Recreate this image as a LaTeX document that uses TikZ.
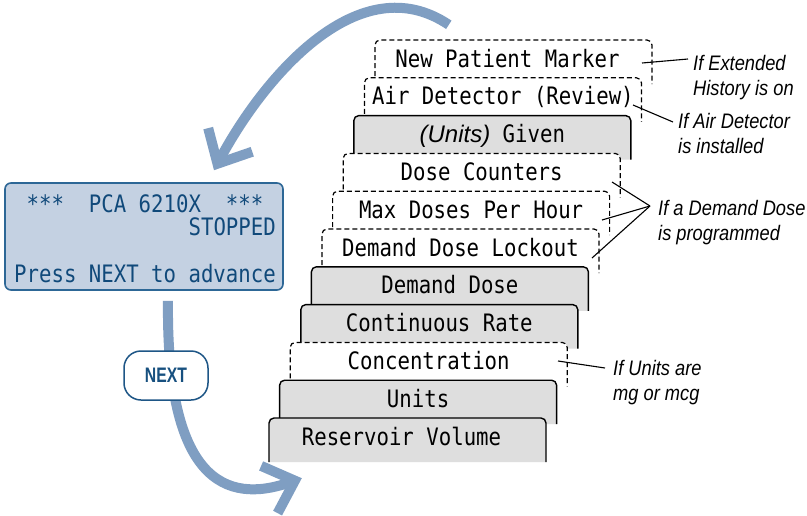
\documentclass[tikz,border=0pt]{standalone}
\usepackage{fontspec}
\setmainfont{Liberation Sans}
\newfontfamily\lcdfont[FakeStretch=0.862]{DejaVu Sans Mono}
\newfontfamily\notefont[FakeStretch=0.87]{Liberation Sans}
\newfontfamily\btnfont[FakeStretch=0.75]{Liberation Sans}
\usetikzlibrary{arrows.meta,calc}
\definecolor{cardgray}{HTML}{DEDEDE}
\definecolor{lcdfill}{HTML}{C4D1E2}
\definecolor{lcdborder}{HTML}{2D6796}
\definecolor{lcdink}{HTML}{10497A}
\definecolor{arrowblue}{HTML}{7F9EC2}
\definecolor{btnborder}{HTML}{1E5686}
\definecolor{btnink}{HTML}{17507F}
\newcommand\drawcard[4]{%
  \pgfmathsetmacro\cardL{375-10.6*#1}%
  \pgfmathsetmacro\cardT{40+37.8*#1}%
  \path[#3] (\cardL,\cardT+44) -- (\cardL,\cardT) -- (\cardL+277,\cardT) -- (\cardL+277,\cardT+44);
  \node[cardnode] (#2) at (\cardL+138.5,\cardT+22) {#4};
}
\begin{document}
\begin{tikzpicture}[x=1pt,y=-1pt,
  cardnode/.style={minimum width=277pt,minimum height=44pt,inner sep=0pt,text height=14pt,text depth=4pt,font=\lcdfont\fontsize{24}{24}\selectfont},
  graycard/.style={fill=cardgray,draw=black,line width=1.4pt,rounded corners=5pt},
  dashcard/.style={fill=white,draw=black,line width=1.2pt,dash pattern=on 5pt off 3pt,rounded corners=5pt},
  note/.style={anchor=north west,inner sep=0pt,align=left,font=\notefont\itshape\fontsize{21}{25}\selectfont},
  leader/.style={draw=black,line width=1.1pt},
  flow/.style={draw=arrowblue,line width=10pt,-{Straight Barb[length=27pt,width=50pt,line width=10pt]}},
  lcdbox/.style={fill=lcdfill,draw=lcdborder,line width=1.6pt,rounded corners=6pt,minimum width=278pt,minimum height=107pt,inner sep=0pt},
  lcdtext/.style={text=lcdink,inner sep=0pt,font=\lcdfont\fontsize{24}{24}\selectfont},
  btn/.style={fill=white,draw=btnborder,line width=1.5pt,rounded corners=17pt,minimum width=84pt,minimum height=49pt,inner sep=0pt,text=btnink,font=\btnfont\bfseries\fontsize{21}{21}\selectfont}
]
\useasboundingbox (0,0) rectangle (807,515);
\fill[white] (0,0) rectangle (807,515);

% LCD display
\node[lcdbox] (lcd) at (144,236.5) {};
\node[lcdtext,anchor=base west] (row1) at (14,212) {~***~~PCA~6210X~~***};
\node[lcdtext,anchor=base east] (row2) at (276,235) {STOPPED};
\node[lcdtext,anchor=base west] (row4) at (14,282) {Press~NEXT~to~advance};

% cards, top to bottom
\drawcard{0}{c0}{dashcard}{New Patient Marker\hspace*{12pt}}
\drawcard{1}{c1}{dashcard}{Air Detector (Review)}
\drawcard{2}{c2}{graycard}{{\rmfamily\itshape (Units)} Given}
\drawcard{3}{c3}{dashcard}{Dose Counters}
\drawcard{4}{c4}{dashcard}{Max Doses Per Hour}
\drawcard{5}{c5}{dashcard}{Demand Dose Lockout}
\drawcard{6}{c6}{graycard}{Demand Dose}
\drawcard{7}{c7}{graycard}{Continuous Rate}
\drawcard{8}{c8}{dashcard}{Concentration}
\drawcard{9}{c9}{graycard}{Units}
\drawcard{10}{c10}{graycard}{Reservoir Volume\hspace*{12pt}}

% flow arrows
\draw[flow] ($(c0.north west)+(74,-15)$) .. controls (360,-35) and (265,75) .. ($(lcd.north)+(70,-12)$);
\draw[flow] ($(lcd.south)+(24,10)$) .. controls (166,480) and (225,505) .. ($(c10.south west)+(33,16)$);
\node[btn] (next) at (166,375.5) {NEXT};

% annotations
\node[note] (a0) at (693,52.5) {\strut If Extended\\History is on};
\node[note] (a1) at (678,110.5) {\strut If Air Detector\\is installed};
\node[note] (a2) at (658,197.5) {\strut If a Demand Dose\\is programmed};
\node[note] (a3) at (613,357.5) {\strut If Units are\\mg or mcg};

\draw[leader] ($(c0.center)+(128.5,1)$) -- ($(a0.north west)+(-5,6.5)$);
\draw[leader] ($(c1.center)+(130.1,5.2)$) -- ($(a1.north west)+(-5,11.5)$);
\coordinate (dd) at ($(a2.north west)+(-8,8.5)$);
\draw[leader] ($(c3.center)+(130.3,6.6)$) -- (dd);
\draw[leader] ($(c4.center)+(130.9,6.8)$) -- (dd);
\draw[leader] ($(c5.center)+(131.5,7)$) -- (dd);
\draw[leader] ($(c8.center)+(129.3,-3.4)$) -- ($(a3.north west)+(-8,10.5)$);
\end{tikzpicture}
\end{document}
